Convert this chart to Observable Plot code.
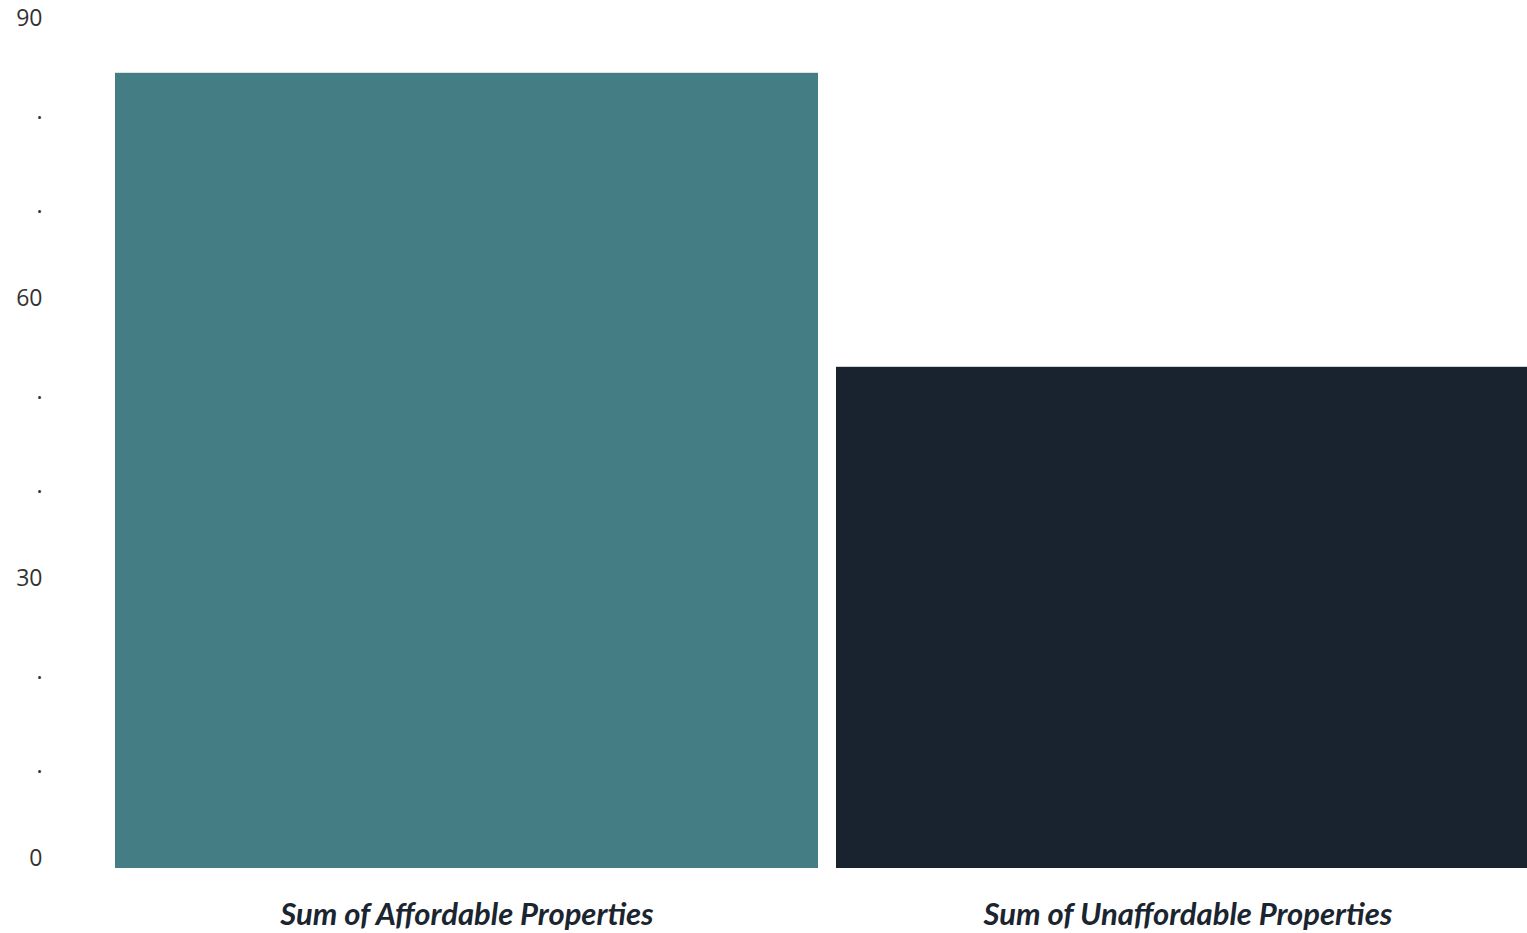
<!DOCTYPE html>
<html>
<head>
<meta charset="utf-8">
<script src="https://cdn.jsdelivr.net/npm/d3@7"></script>
<script src="https://cdn.jsdelivr.net/npm/@observablehq/plot@0.6"></script>
<style>
  html, body { margin: 0; padding: 0; background: #fff; overflow: hidden; }
  #chart svg { display: block; }
  #chart g[aria-label="x-axis tick label"] text { font-style: italic; }
</style>
</head>
<body>
<div id="chart"></div>
<script>
const categories = ["Sum of Affordable Properties", "Sum of Unaffordable Properties"];
const values = [85.2, 53.7];
const colors = ["#457d84", "#18232f"];
const yTicks = [0, 10, 20, 30, 40, 50, 60, 70, 80, 90];
const yLabelEvery = 30;

const data = categories.map((c, i) => ({category: c, value: values[i], color: colors[i]}));

const chart = Plot.plot({
  width: 1527,
  height: 933,
  marginLeft: 115,
  marginRight: 0,
  marginTop: 28,
  marginBottom: 65,
  style: {background: "#fff", overflow: "hidden"},
  x: {domain: categories, range: [115, 1539], paddingInner: 0.025, paddingOuter: 0, label: null},
  y: {domain: [0, 90], label: null},
  marks: [
    Plot.barY(data, {x: "category", y: "value", fill: "color"}),
    Plot.axisY({
      ticks: yTicks,
      tickSize: 0,
      tickPadding: 73,
      dy: -10,
      fontSize: 23,
      fontFamily: "Open Sans",
      fill: "#333",
      label: null,
      tickFormat: d => d % yLabelEvery === 0 ? String(d) : "."
    }),
    Plot.axisX({
      tickSize: 0,
      tickPadding: 34,
      fontSize: 31,
      fontWeight: "bold",
      fontFamily: "Lato",
      fill: "#1a2530",
      label: null
    })
  ]
});
document.getElementById("chart").appendChild(chart);
</script>
</body>
</html>
